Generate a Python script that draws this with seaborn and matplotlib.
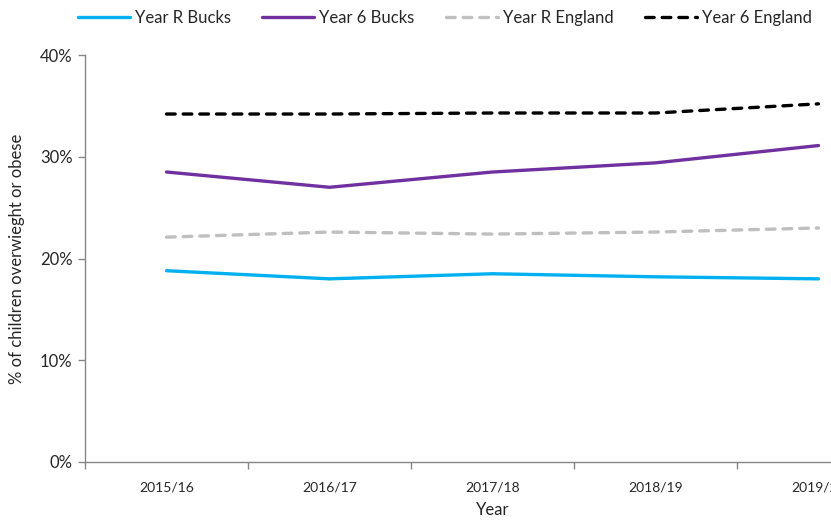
import pandas as pd
import matplotlib
matplotlib.use("Agg")
import matplotlib.pyplot as plt
import seaborn as sns
from matplotlib.ticker import FixedLocator, FuncFormatter

# Data (% of children overweight or obese)
years = ['2015/16', '2016/17', '2017/18', '2018/19', '2019/20']
year_r_bucks = [18.8, 18.0, 18.5, 18.2, 18.0]
year_6_bucks = [28.5, 27.0, 28.5, 29.4, 31.1]
year_r_england = [22.1, 22.6, 22.4, 22.6, 23.0]
year_6_england = [34.2, 34.2, 34.3, 34.3, 35.2]

series_names = ['Year R Bucks', 'Year 6 Bucks', 'Year R England', 'Year 6 England']
series_values = [year_r_bucks, year_6_bucks, year_r_england, year_6_england]
colours = ['#00B0F0', '#7030A0', '#BFBFBF', '#000000']
dashed = [False, False, True, True]

# long format for seaborn
rows = []
for name, vals in zip(series_names, series_values):
    for i, v in enumerate(vals):
        rows.append({'pos': i, 'Year': years[i], 'value': v, 'series': name})
df = pd.DataFrame(rows)

sns.set_style('white')
plt.rcParams['font.family'] = ['Lato', 'DejaVu Sans']

fig = plt.figure(figsize=(8.31, 5.22), dpi=100)
# axes runs off the right edge, like the original export
ax = fig.add_axes([85 / 831, 60 / 522, 815 / 831, 407 / 522])

for name, col, dash in zip(series_names, colours, dashed):
    sub = df[df['series'] == name]
    sns.lineplot(data=sub, x='pos', y='value', ax=ax, color=col,
                 linewidth=2.4, label=name, solid_capstyle='round')
    l = ax.lines[-1]
    if dash:
        l.set_linestyle((0, (2.6, 2.4)))
        l.set_dash_capstyle('round')

ax.set_xlim(-0.5, 4.5)
ax.set_ylim(0, 40)

ax.set_xticks(range(len(years)))
ax.set_xticklabels(years, fontsize=10)
ax.xaxis.set_minor_locator(FixedLocator([i - 0.5 for i in range(len(years) + 1)]))
ax.tick_params(axis='x', which='major', length=0, pad=14)
ax.tick_params(axis='x', which='minor', length=5, width=1, color='#868686', direction='out', bottom=True)

ax.set_yticks([0, 10, 20, 30, 40])
ax.yaxis.set_major_formatter(FuncFormatter(lambda v, p: f'{v:.0f}%'))
ax.tick_params(axis='y', length=5, width=1, color='#868686', direction='out', left=True, labelsize=12, pad=4)

for s in ['top', 'right']:
    ax.spines[s].set_visible(False)
for s in ['left', 'bottom']:
    ax.spines[s].set_color('#868686')
    ax.spines[s].set_linewidth(1)

ax.set_xlabel('Year', fontsize=12, labelpad=6)
ax.set_ylabel('% of children overwieght or obese', fontsize=12, labelpad=11)

ax.legend(loc='upper left', bbox_to_anchor=(68 / 831, 1.0), bbox_transform=fig.transFigure,
          ncol=4, frameon=False, fontsize=12, handlelength=3.1, handletextpad=0.3,
          columnspacing=1.9, borderaxespad=0.2)

fig.savefig('out.png', dpi=100)
